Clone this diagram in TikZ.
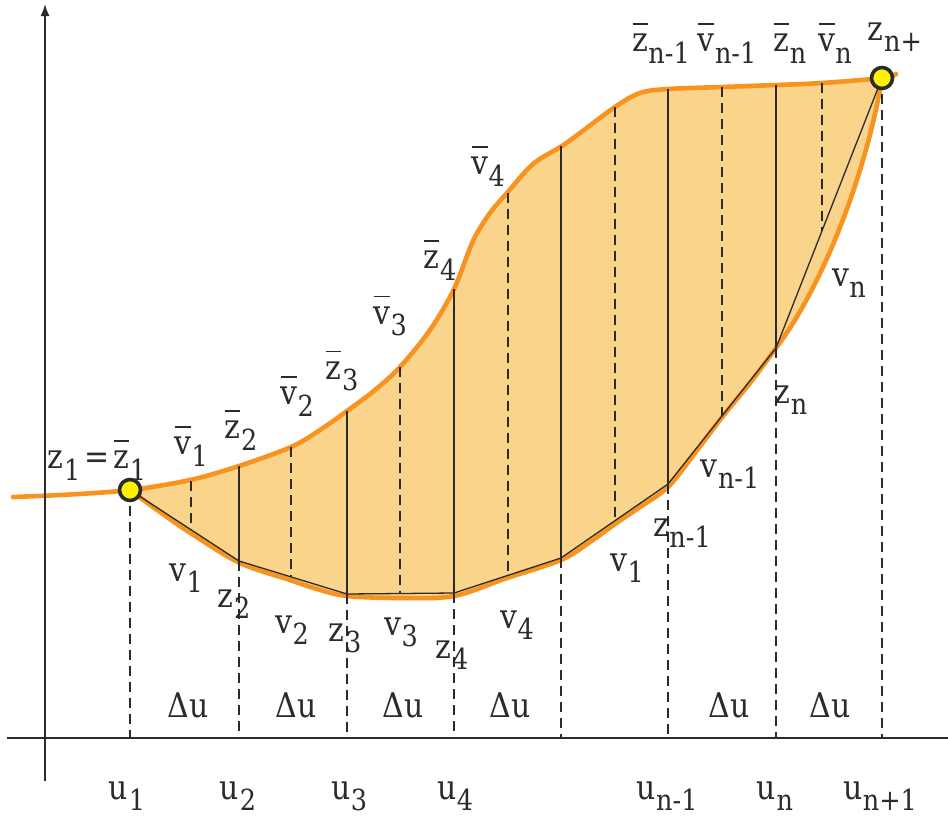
\documentclass[tikz,border=0pt]{standalone}
\usepackage{fontspec}
\setmainfont{DejaVu Serif}[FakeStretch=0.88]
\usetikzlibrary{arrows.meta}
\definecolor{orng}{HTML}{F7931E}
\definecolor{fillc}{HTML}{FAD48A}
\definecolor{ink}{HTML}{2B2B2B}
\definecolor{yel}{HTML}{FFF200}
\newcommand\subtxt[1]{\raisebox{-0.33em}{\fontsize{29}{29}\selectfont #1}}
\newcommand\Lab[2]{#1\kern0.5pt\subtxt{#2}}
\newcommand\barred[1]{\setbox0\hbox{#1}\rlap{\hbox to \wd0{\hss\rule[0.8em]{0.95\wd0}{1.7pt}\hss}}\box0}
\newcommand\BLab[2]{\barred{#1}\kern0.5pt\subtxt{#2}}
\begin{document}
\begin{tikzpicture}[x=1pt,y=-1pt,
  lbl/.style={inner sep=0pt,anchor=center,text=ink,font=\fontsize{34}{38}\selectfont},
  axis/.style={draw=ink,line width=1.8pt},
  dsh/.style={draw=ink,line width=1.6pt,dash pattern=on 10pt off 6pt},
  sol/.style={draw=ink,line width=1.3pt},
  curve/.style={draw=orng,line width=4.6pt,line cap=round},
  pt/.style={circle,draw=ink,fill=yel,line width=3.6pt,minimum size=21pt,inner sep=0pt}]
\useasboundingbox (0,0) rectangle (948,817);

% fill region
\fill[fillc] plot[smooth,tension=0.55] coordinates {(130,490) (190,480) (239,466) (291,447) (320,430) (347,411) (375,390) (400,367) (430,330) (454,289) (473,241) (490,213) (507,193) (533,164) (562,146) (580,133) (615,107) (640,93) (668,89) (722,87) (776,85) (822,83) (882,78)}
 .. controls (865,180) and (820,290) .. (776,348)
 -- plot[smooth,tension=0.55] coordinates {(776,348) (750,383) (723,416) (695,453) (668,487) (640,507) (615,524) (590,542) (561,560) (507,578) (454,596) (400,598) (347,596) (317,589) (290,580) (240,563) (192,534) (160,512) (130,490)} -- cycle;

% orange curves
\draw[curve] plot[smooth,tension=0.55] coordinates {(13,497) (70,494.5) (130,490) (190,480) (239,466) (291,447) (320,430) (347,411) (375,390) (400,367) (430,330) (454,289) (473,241) (490,213) (507,193) (533,164) (562,146) (580,133) (615,107) (640,93) (668,89) (722,87) (776,85) (822,83) (882,78) (896,74)};
\draw[curve] (882,78) .. controls (865,180) and (820,290) .. (776,348)
  plot[smooth,tension=0.55] coordinates {(776,348) (750,383) (723,416) (695,453) (668,487) (640,507) (615,524) (590,542) (561,560) (507,578) (454,596) (400,598) (347,596) (317,589) (290,580) (240,563) (192,534) (160,512) (130,490)};

% axes
\coordinate (ybot) at (45,781);
\coordinate (ytop) at (45,4);
\coordinate (xl) at (7,738);
\coordinate (xr) at (948,738);
\draw[axis,-{Latex[length=12pt,width=9pt]}] (ybot) -- (ytop);
\draw[axis] (xl) -- (xr);

% lower vertices (polyline)
\coordinate (Z1) at (130,490);
\coordinate (Z2) at (239,561);
\coordinate (Z3) at (347,594);
\coordinate (Z4) at (454,593);
\coordinate (Z5) at (561,558);
\coordinate (Z6) at (668,484);
\coordinate (Z7) at (776,348);
\coordinate (Z8) at (882,78);
% top points of solid lines
\coordinate (T2) at (239,466);
\coordinate (T3) at (347,411);
\coordinate (T4) at (454,289);
\coordinate (T5) at (561,146);
\coordinate (T6) at (668,89);
\coordinate (T7) at (776,85);
% axis feet
\coordinate (A1) at (130,738);
\coordinate (A2) at (239,738);
\coordinate (A3) at (347,738);
\coordinate (A4) at (454,738);
\coordinate (A5) at (561,738);
\coordinate (A6) at (668,738);
\coordinate (A7) at (776,738);
\coordinate (A8) at (882,738);
% v dashed lines (top / bottom)
\coordinate (V1t) at (191,481); \coordinate (V1b) at (191,530);
\coordinate (V2t) at (291,447); \coordinate (V2b) at (291,577);
\coordinate (V3t) at (400,367); \coordinate (V3b) at (400,593.5);
\coordinate (V4t) at (508,193); \coordinate (V4b) at (508,575);
\coordinate (V5t) at (615,107); \coordinate (V5b) at (615,521);
\coordinate (V6t) at (722,87);  \coordinate (V6b) at (722,416);
\coordinate (V7t) at (822,83);  \coordinate (V7b) at (822,231);

\foreach \i in {1,...,7} {\draw[dsh] (V\i t) -- (V\i b);}
\foreach \i in {2,...,7} {\draw[sol] (T\i) -- (Z\i);}
\foreach \i in {1,...,8} {\draw[dsh] (Z\i) -- (A\i);}

\draw[sol,line join=round] (Z1) -- (Z2) -- (Z3) -- (Z4) -- (Z5) -- (Z6) -- (Z7) -- (Z8);

\node[pt] (P1) at (Z1) {};
\node[pt] (P2) at (Z8) {};

% upper labels
\node[lbl] (l1) at (97,460) {\Lab{z}{1}\kern4pt=\kern4pt\BLab{z}{1}};
\node[lbl] (l2) at (191,446) {\BLab{v}{1}};
\node[lbl] (l3) at (241,430) {\BLab{z}{2}};
\node[lbl] (l4) at (297,396) {\BLab{v}{2}};
\node[lbl] (l5) at (342,371) {\BLab{z}{3}};
\node[lbl] (l6) at (390,316) {\BLab{v}{3}};
\node[lbl] (l7) at (440,260) {\BLab{z}{4}};
\node[lbl] (l8) at (488,166) {\BLab{v}{4}};
\node[lbl] (l9) at (661,43) {\BLab{z}{n-1}};
\node[lbl] (l10) at (727,43) {\BLab{v}{n-1}};
\node[lbl] (l11) at (790,43) {\BLab{z}{n}};
\node[lbl] (l12) at (835,43) {\BLab{v}{n}};
\node[lbl] (l13) at (895,37) {\Lab{z}{n+}};

% lower labels
\node[lbl] (m1) at (186,578) {\Lab{v}{1}};
\node[lbl] (m2) at (234,604) {\Lab{z}{2}};
\node[lbl] (m3) at (292,630) {\Lab{v}{2}};
\node[lbl] (m4) at (345,638) {\Lab{z}{3}};
\node[lbl] (m5) at (401,632) {\Lab{v}{3}};
\node[lbl] (m6) at (452,655) {\Lab{z}{4}};
\node[lbl] (m7) at (517,625) {\Lab{v}{4}};
\node[lbl] (m8) at (627,568) {\Lab{v}{1}};
\node[lbl] (m9) at (682,533) {\Lab{z}{n-1}};
\node[lbl] (m10) at (730,474) {\Lab{v}{n-1}};
\node[lbl] (m11) at (791,400) {\Lab{z}{n}};
\node[lbl] (m12) at (849,283) {\Lab{v}{n}};

% delta u
\foreach \x/\n in {188/d1,296/d2,403/d3,510/d4,729/d5,830/d6} {\node[lbl] (\n) at (\x,705) {Δu};}

% u labels
\node[lbl] (u1) at (127,796) {\Lab{u}{1}};
\node[lbl] (u2) at (238,796) {\Lab{u}{2}};
\node[lbl] (u3) at (349,796) {\Lab{u}{3}};
\node[lbl] (u4) at (455,796) {\Lab{u}{4}};
\node[lbl] (u5) at (667,796) {\Lab{u}{n-1}};
\node[lbl] (u6) at (775,796) {\Lab{u}{n}};
\node[lbl] (u7) at (880,796) {\Lab{u}{n+1}};
\end{tikzpicture}
\end{document}
